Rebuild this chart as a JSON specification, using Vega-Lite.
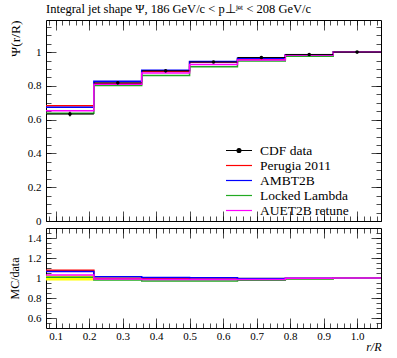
{
  "$schema": "https://vega.github.io/schema/vega-lite/v6.json",
  "background": "white",
  "padding": {"left": 7, "top": 2, "right": 5, "bottom": 5},
  "config": {
    "view": {"stroke": "black", "strokeWidth": 1},
    "font": "Liberation Serif",
    "axis": {"domain": false, "grid": false, "tickColor": "black", "tickWidth": 0.7, "labelFont": "Liberation Serif", "labelFontSize": 11, "labelColor": "black", "titleFont": "Liberation Serif", "titleFontSize": 12, "titleFontWeight": "normal", "titleColor": "black"}
  },
  "datasets": {
    "pts": [
      {"lo": 0.0714, "hi": 0.2143, "x": 0.1429, "v": 0.633, "vlo": 0.619, "vhi": 0.647, "rlo": 0.975, "rhi": 1.025},
      {"lo": 0.2143, "hi": 0.3571, "x": 0.2857, "v": 0.818, "vlo": 0.812, "vhi": 0.824, "rlo": 0.992, "rhi": 1.008},
      {"lo": 0.3571, "hi": 0.5, "x": 0.4286, "v": 0.889, "vlo": 0.884, "vhi": 0.894, "rlo": 0.994, "rhi": 1.006},
      {"lo": 0.5, "hi": 0.6429, "x": 0.5714, "v": 0.941, "vlo": 0.937, "vhi": 0.945, "rlo": 0.996, "rhi": 1.004},
      {"lo": 0.6429, "hi": 0.7857, "x": 0.7143, "v": 0.968, "vlo": 0.965, "vhi": 0.971, "rlo": 0.997, "rhi": 1.003},
      {"lo": 0.7857, "hi": 0.9286, "x": 0.8571, "v": 0.986, "vlo": 0.984, "vhi": 0.988, "rlo": 0.998, "rhi": 1.002},
      {"lo": 0.9286, "hi": 1.0714, "x": 1.0, "v": 1.0, "vlo": 1.0, "vhi": 1.0, "rlo": 1.0, "rhi": 1.0}
    ],
    "mc": [
      {"s": "Perugia 2011", "x": 0.0714, "v": 0.682, "r": 1.077},
      {"s": "Perugia 2011", "x": 0.2143, "v": 0.814, "r": 0.995},
      {"s": "Perugia 2011", "x": 0.3571, "v": 0.885, "r": 0.995},
      {"s": "Perugia 2011", "x": 0.5, "v": 0.941, "r": 1.0},
      {"s": "Perugia 2011", "x": 0.6429, "v": 0.958, "r": 0.99},
      {"s": "Perugia 2011", "x": 0.7857, "v": 0.981, "r": 0.995},
      {"s": "Perugia 2011", "x": 0.9286, "v": 1.0, "r": 1.0},
      {"s": "Perugia 2011", "x": 1.0714, "v": 1.0, "r": 1.0},
      {"s": "AMBT2B", "x": 0.0714, "v": 0.674, "r": 1.064},
      {"s": "AMBT2B", "x": 0.2143, "v": 0.828, "r": 1.012},
      {"s": "AMBT2B", "x": 0.3571, "v": 0.893, "r": 1.005},
      {"s": "AMBT2B", "x": 0.5, "v": 0.944, "r": 1.003},
      {"s": "AMBT2B", "x": 0.6429, "v": 0.963, "r": 0.995},
      {"s": "AMBT2B", "x": 0.7857, "v": 0.984, "r": 0.998},
      {"s": "AMBT2B", "x": 0.9286, "v": 1.0, "r": 1.0},
      {"s": "AMBT2B", "x": 1.0714, "v": 1.0, "r": 1.0},
      {"s": "Locked Lambda", "x": 0.0714, "v": 0.638, "r": 1.008},
      {"s": "Locked Lambda", "x": 0.2143, "v": 0.802, "r": 0.98},
      {"s": "Locked Lambda", "x": 0.3571, "v": 0.862, "r": 0.97},
      {"s": "Locked Lambda", "x": 0.5, "v": 0.913, "r": 0.97},
      {"s": "Locked Lambda", "x": 0.6429, "v": 0.947, "r": 0.978},
      {"s": "Locked Lambda", "x": 0.7857, "v": 0.976, "r": 0.99},
      {"s": "Locked Lambda", "x": 0.9286, "v": 1.0, "r": 1.0},
      {"s": "Locked Lambda", "x": 1.0714, "v": 1.0, "r": 1.0},
      {"s": "AUET2B retune", "x": 0.0714, "v": 0.653, "r": 1.03},
      {"s": "AUET2B retune", "x": 0.2143, "v": 0.81, "r": 0.99},
      {"s": "AUET2B retune", "x": 0.3571, "v": 0.876, "r": 0.985},
      {"s": "AUET2B retune", "x": 0.5, "v": 0.927, "r": 0.985},
      {"s": "AUET2B retune", "x": 0.6429, "v": 0.953, "r": 0.985},
      {"s": "AUET2B retune", "x": 0.7857, "v": 0.983, "r": 0.997},
      {"s": "AUET2B retune", "x": 0.9286, "v": 1.0, "r": 1.0},
      {"s": "AUET2B retune", "x": 1.0714, "v": 1.0, "r": 1.0}
    ]
  },
  "spacing": 0,
  "resolve": {"scale": {"color": "independent"}, "legend": {"color": "independent"}},
  "vconcat": [
    {
      "width": 335,
      "height": 201,
      "title": {"text": "Integral jet shape Ψ, 186 GeV/c < p⊥ʲᵉᵗ < 208 GeV/c", "anchor": "start", "frame": "group", "font": "Liberation Serif", "fontSize": 12.5, "fontWeight": "normal", "color": "black", "offset": 4},
      "resolve": {"axis": {"x": "independent", "y": "independent"}},
      "layer": [
        {
          "data": {"name": "mc"},
          "mark": {"type": "line", "interpolate": "step-after", "strokeWidth": 1.5},
          "encoding": {
            "x": {"field": "x", "type": "quantitative", "scale": {"domain": [0.0714, 1.0714], "nice": false, "zero": false},
                  "axis": {"orient": "top", "values": [0.1,0.2,0.3,0.4,0.5,0.6,0.7,0.8,0.9,1.0], "tickSize": -10, "labels": false, "title": null}},
            "y": {"field": "v", "type": "quantitative", "scale": {"domain": [0, 1.19], "nice": false, "zero": false},
                  "axis": {"orient": "right", "values": [0,0.2,0.4,0.6,0.8,1], "tickSize": -10, "labels": false, "title": null}},
            "color": {"field": "s", "type": "nominal",
                      "scale": {"domain": ["CDF data", "Perugia 2011", "AMBT2B", "Locked Lambda", "AUET2B retune"], "range": ["black", "red", "blue", "#22aa22", "magenta"]},
                      "legend": {"orient": "none", "legendX": 185.5, "legendY": 123, "title": null, "padding": 0, "symbolType": "M-2,0H2", "symbolSize": 169, "symbolStrokeWidth": 1.2, "labelFont": "Liberation Serif", "labelFontSize": 13.5, "labelColor": "black", "labelOffset": 13.5, "rowPadding": 1,
                                 "encode": {"symbols": {"update": {
                                   "shape": {"signal": "datum.value === 'CDF data' ? 'M-2,0H2M-0.3,0A0.3,0.3,0,1,1,0.3,0A0.3,0.3,0,1,1,-0.3,0Z' : 'M-2,0H2'"},
                                   "fill": {"signal": "datum.value === 'CDF data' ? 'black' : 'transparent'"}}}}}},
            "order": {"field": "x", "type": "quantitative"}
          }
        },
        {
          "data": {"name": "pts"},
          "mark": {"type": "rule", "color": "black", "strokeWidth": 1},
          "encoding": {
            "x": {"field": "lo", "type": "quantitative",
                  "axis": {"orient": "bottom", "values": [0.1,0.2,0.3,0.4,0.5,0.6,0.7,0.8,0.9,1.0], "tickSize": -10, "labels": false, "title": null}},
            "x2": {"field": "hi"},
            "y": {"field": "v", "type": "quantitative",
                  "axis": {"orient": "left", "values": [0,0.2,0.4,0.6,0.8,1], "format": "~g", "tickSize": -10, "labelPadding": 15, "title": "Ψ(r/R)", "titleFontSize": 13.5, "titleAnchor": "end", "titlePadding": 5}}
          }
        },
        {
          "data": {"name": "pts"},
          "mark": {"type": "rule", "color": "black", "strokeWidth": 1},
          "encoding": {
            "x": {"field": "x", "type": "quantitative",
                  "axis": {"orient": "bottom", "values": [0.08,0.1,0.12,0.14,0.16,0.18,0.2,0.22,0.24,0.26,0.28,0.3,0.32,0.34,0.36,0.38,0.4,0.42,0.44,0.46,0.48,0.5,0.52,0.54,0.56,0.58,0.6,0.62,0.64,0.66,0.68,0.7,0.72,0.74,0.76,0.78,0.8,0.82,0.84,0.86,0.88,0.9,0.92,0.94,0.96,0.98,1.0,1.02,1.04,1.06], "tickSize": -5, "labels": false, "title": null}},
            "y": {"field": "vlo", "type": "quantitative",
                  "axis": {"orient": "left", "values": [0,0.05,0.1,0.15,0.2,0.25,0.3,0.35,0.4,0.45,0.5,0.55,0.6,0.65,0.7,0.75,0.8,0.85,0.9,0.95,1,1.05,1.1,1.15], "tickSize": -5, "labels": false, "title": null}},
            "y2": {"field": "vhi"}
          }
        },
        {
          "data": {"name": "pts"},
          "mark": {"type": "point", "filled": true, "color": "black", "size": 13, "opacity": 1},
          "encoding": {
            "x": {"field": "x", "type": "quantitative",
                  "axis": {"orient": "top", "values": [0.08,0.1,0.12,0.14,0.16,0.18,0.2,0.22,0.24,0.26,0.28,0.3,0.32,0.34,0.36,0.38,0.4,0.42,0.44,0.46,0.48,0.5,0.52,0.54,0.56,0.58,0.6,0.62,0.64,0.66,0.68,0.7,0.72,0.74,0.76,0.78,0.8,0.82,0.84,0.86,0.88,0.9,0.92,0.94,0.96,0.98,1.0,1.02,1.04,1.06], "tickSize": -5, "labels": false, "title": null}},
            "y": {"field": "v", "type": "quantitative",
                  "axis": {"orient": "right", "values": [0,0.05,0.1,0.15,0.2,0.25,0.3,0.35,0.4,0.45,0.5,0.55,0.6,0.65,0.7,0.75,0.8,0.85,0.9,0.95,1,1.05,1.1,1.15], "tickSize": -5, "labels": false, "title": null}}
          }
        }
      ]
    },
    {
      "width": 335,
      "height": 100,
      "resolve": {"axis": {"x": "independent", "y": "independent"}},
      "layer": [
        {
          "data": {"name": "pts"},
          "mark": {"type": "rect", "color": "#ffff00"},
          "encoding": {
            "x": {"field": "lo", "type": "quantitative", "scale": {"domain": [0.0714, 1.0714], "nice": false, "zero": false},
                  "axis": {"orient": "bottom", "values": [0.1,0.2,0.3,0.4,0.5,0.6,0.7,0.8,0.9,1.0], "format": ".1f", "tickSize": -10, "labelPadding": 12, "title": "r/R", "titleAnchor": "end", "titleFontStyle": "italic", "titlePadding": 0}},
            "x2": {"field": "hi"},
            "y": {"field": "rlo", "type": "quantitative", "scale": {"domain": [0.5, 1.5], "nice": false, "zero": false},
                  "axis": {"orient": "left", "values": [0.6,0.8,1,1.2,1.4], "format": "~g", "tickSize": -10, "labelPadding": 15, "title": "MC/data", "titlePadding": 6}},
            "y2": {"field": "rhi"}
          }
        },
        {
          "data": {"name": "mc"},
          "mark": {"type": "line", "interpolate": "step-after", "strokeWidth": 1.5},
          "encoding": {
            "x": {"field": "x", "type": "quantitative",
                  "axis": {"orient": "top", "values": [0.1,0.2,0.3,0.4,0.5,0.6,0.7,0.8,0.9,1.0], "tickSize": -10, "labels": false, "title": null}},
            "y": {"field": "r", "type": "quantitative",
                  "axis": {"orient": "right", "values": [0.6,0.8,1,1.2,1.4], "tickSize": -10, "labels": false, "title": null}},
            "color": {"field": "s", "type": "nominal",
                      "scale": {"domain": ["CDF data", "Perugia 2011", "AMBT2B", "Locked Lambda", "AUET2B retune"], "range": ["black", "red", "blue", "#22aa22", "magenta"]},
                      "legend": null},
            "order": {"field": "x", "type": "quantitative"}
          }
        },
        {
          "data": {"name": "pts"},
          "mark": {"type": "rect", "opacity": 0},
          "encoding": {
            "x": {"field": "lo", "type": "quantitative",
                  "axis": {"orient": "bottom", "values": [0.08,0.1,0.12,0.14,0.16,0.18,0.2,0.22,0.24,0.26,0.28,0.3,0.32,0.34,0.36,0.38,0.4,0.42,0.44,0.46,0.48,0.5,0.52,0.54,0.56,0.58,0.6,0.62,0.64,0.66,0.68,0.7,0.72,0.74,0.76,0.78,0.8,0.82,0.84,0.86,0.88,0.9,0.92,0.94,0.96,0.98,1.0,1.02,1.04,1.06], "tickSize": -5, "labels": false, "title": null}},
            "x2": {"field": "hi"},
            "y": {"field": "rlo", "type": "quantitative",
                  "axis": {"orient": "left", "values": [0.55,0.6,0.65,0.7,0.75,0.8,0.85,0.9,0.95,1,1.05,1.1,1.15,1.2,1.25,1.3,1.35,1.4,1.45], "tickSize": -5, "labels": false, "title": null}},
            "y2": {"field": "rhi"}
          }
        },
        {
          "data": {"name": "pts"},
          "mark": {"type": "rect", "opacity": 0},
          "encoding": {
            "x": {"field": "lo", "type": "quantitative",
                  "axis": {"orient": "top", "values": [0.08,0.1,0.12,0.14,0.16,0.18,0.2,0.22,0.24,0.26,0.28,0.3,0.32,0.34,0.36,0.38,0.4,0.42,0.44,0.46,0.48,0.5,0.52,0.54,0.56,0.58,0.6,0.62,0.64,0.66,0.68,0.7,0.72,0.74,0.76,0.78,0.8,0.82,0.84,0.86,0.88,0.9,0.92,0.94,0.96,0.98,1.0,1.02,1.04,1.06], "tickSize": -5, "labels": false, "title": null}},
            "x2": {"field": "hi"},
            "y": {"field": "rlo", "type": "quantitative",
                  "axis": {"orient": "right", "values": [0.55,0.6,0.65,0.7,0.75,0.8,0.85,0.9,0.95,1,1.05,1.1,1.15,1.2,1.25,1.3,1.35,1.4,1.45], "tickSize": -5, "labels": false, "title": null}},
            "y2": {"field": "rhi"}
          }
        }
      ]
    }
  ]
}
